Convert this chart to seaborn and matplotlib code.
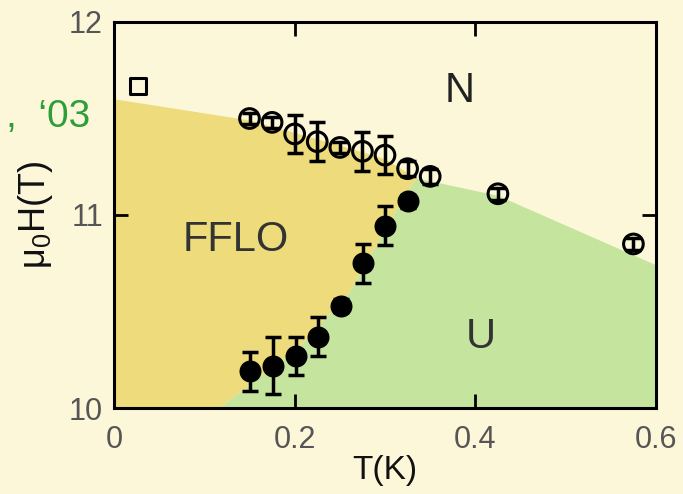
import numpy as np
import pandas as pd
import matplotlib
matplotlib.use("Agg")
import matplotlib.pyplot as plt
import seaborn as sns

# ==========================================
# Data
# ==========================================

# open circles (upper critical field) with error bars
open_T = [0.150, 0.175, 0.200, 0.225, 0.250, 0.275, 0.300, 0.325, 0.350, 0.425, 0.575]
open_H = [11.50, 11.48, 11.42, 11.38, 11.35, 11.33, 11.31, 11.24, 11.20, 11.11, 10.85]
open_err = [0.03, 0.03, 0.10, 0.10, 0.03, 0.10, 0.10, 0.04, 0.04, 0.03, 0.03]

# filled circles (FFLO transition) with error bars
fill_T = [0.151, 0.176, 0.201, 0.226, 0.251, 0.276, 0.300, 0.326]
fill_H = [10.19, 10.22, 10.27, 10.37, 10.53, 10.75, 10.945, 11.07]
fill_err = [0.10, 0.15, 0.10, 0.10, 0.035, 0.10, 0.10, 0.035]

# open square
square_T = [0.027]
square_H = [11.67]

# phase boundaries
upper_T = [0.0, 0.15, 0.25, 0.30, 0.335, 0.425, 0.60]
upper_H = [11.60, 11.49, 11.36, 11.29, 11.19, 11.10, 10.74]
lower_T = [0.117, 0.206, 0.261, 0.317, 0.335]
lower_H = [10.00, 10.32, 10.60, 11.06, 11.19]

x_ticks = [0, 0.2, 0.4, 0.6]
x_labels = ["0", "0.2", "0.4", "0.6"]
y_ticks = [10, 11, 12]
y_labels = ["10", "11", "12"]

# ==========================================
# Colours / style
# ==========================================

cream = "#FDF7DA"
yellow = "#EEDB7C"
green = "#C5E59F"
text_green = "#2E9E3A"

sns.set_theme(style="ticks")
plt.rcParams["font.family"] = ["Liberation Sans", "DejaVu Sans"]
plt.rcParams["mathtext.fontset"] = "custom"
plt.rcParams["mathtext.rm"] = "Liberation Sans"

fig = plt.figure(figsize=(6.83, 4.94), dpi=100, facecolor=cream)
ax = fig.add_axes([114 / 683, 1 - 408 / 494, 542 / 683, 386 / 494])
ax.set_facecolor(cream)

# ==========================================
# Phase regions
# ==========================================

# FFLO region: left axis, upper boundary up to the junction, lower boundary back down
jn = upper_T.index(0.335)
ffl_x = [0.0] + upper_T[:jn + 1] + lower_T[::-1]
ffl_y = [10.0] + upper_H[:jn + 1] + lower_H[::-1]
ax.fill(ffl_x, ffl_y, color=yellow, lw=0, zorder=0)

# U region: lower boundary, then upper boundary to right edge
u_x = lower_T + upper_T[jn + 1:] + [0.6]
u_y = lower_H + upper_H[jn + 1:] + [10.0]
ax.fill(u_x, u_y, color=green, lw=0, zorder=0)

# ==========================================
# Data points
# ==========================================

ax.errorbar(open_T, open_H, yerr=open_err, fmt="none", ecolor="black",
            elinewidth=2.5, capsize=6, capthick=2.5, zorder=2)
sns.scatterplot(x=open_T, y=open_H, ax=ax, marker="o", s=200,
                facecolor="none", edgecolor="black", linewidth=2.2, zorder=3)

ax.errorbar(fill_T, fill_H, yerr=fill_err, fmt="none", ecolor="black",
            elinewidth=2.5, capsize=6, capthick=2.5, zorder=2)
sns.scatterplot(x=fill_T, y=fill_H, ax=ax, marker="o", s=220,
                color="black", edgecolor="black", linewidth=1, zorder=3)

sns.scatterplot(x=square_T, y=square_H, ax=ax, marker="s", s=130,
                facecolor="none", edgecolor="black", linewidth=2.2, zorder=3)

# ==========================================
# Labels
# ==========================================

ax.text(0.383, 11.64, "N", fontsize=30, color="#222", ha="center", va="center")
ax.text(0.135, 10.87, "FFLO", fontsize=30, color="#333", ha="center", va="center")
ax.text(0.406, 10.37, "U", fontsize=30, color="#333", ha="center", va="center")

ax.set_xlim(0, 0.6)
ax.set_ylim(10, 12)
ax.set_xticks(x_ticks)
ax.set_xticklabels(x_labels)
ax.set_yticks(y_ticks)
ax.set_yticklabels(y_labels)
ax.tick_params(direction="in", length=10, width=2, top=True, right=True,
               labelsize=22, labelcolor="#555", color="black")
ax.tick_params(axis="x", pad=12)
ax.tick_params(axis="y", pad=8)
for s in ax.spines.values():
    s.set_linewidth(2.2)
    s.set_color("black")

ax.set_xlabel("T(K)", fontsize=24, color="#111", labelpad=0)
ax.set_ylabel(r"μ$_\mathrm{0}$H(T)", fontsize=26, color="#111", labelpad=10)

fig.text(90 / 683, 1 - 127 / 494, ",  \u201803", fontsize=28, color=text_green,
         ha="right", va="baseline")

fig.savefig("out.png", dpi=100, facecolor=cream)
